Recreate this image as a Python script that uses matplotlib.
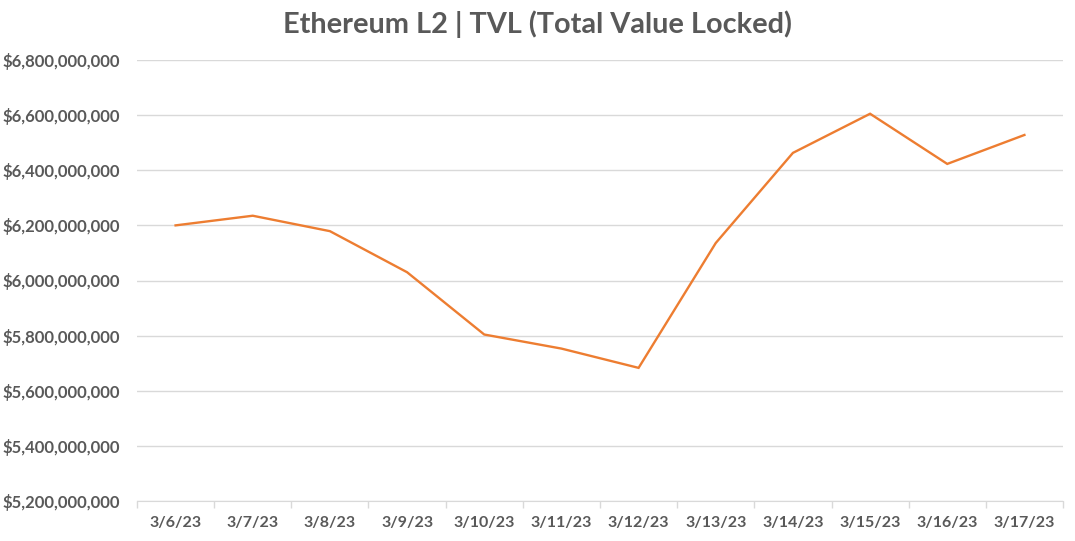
import matplotlib.pyplot as plt
from matplotlib.ticker import FuncFormatter, MultipleLocator
import numpy as np

dates = ["3/6/23", "3/7/23", "3/8/23", "3/9/23", "3/10/23", "3/11/23",
         "3/12/23", "3/13/23", "3/14/23", "3/15/23", "3/16/23", "3/17/23"]
tvl = [6.200e9, 6.235e9, 6.179e9, 6.030e9, 5.804e9, 5.753e9,
       5.683e9, 6.136e9, 6.463e9, 6.605e9, 6.423e9, 6.528e9]

gray = "#595959"
plt.rcParams["font.family"] = ["Lato", "DejaVu Sans"]

fig = plt.figure(figsize=(10.75, 5.41), dpi=100)
ax = fig.add_axes([137 / 1075, 1 - 501 / 541, (1063 - 137) / 1075, (501 - 60) / 541])

x = np.arange(len(dates))
ax.plot(x, tvl, color="#ED7D31", linewidth=1.7, solid_joinstyle="miter")

ax.set_xlim(-0.5, len(dates) - 0.5)
ax.set_ylim(5.2e9, 6.8e9)
ax.yaxis.set_major_locator(MultipleLocator(2e8))
ax.yaxis.set_major_formatter(FuncFormatter(lambda v, p: f"${v:,.0f}"))
ax.grid(axis="y", color="#d9d9d9", linewidth=1)
ax.set_axisbelow(True)

ax.set_xticks(x)
ax.set_xticklabels(dates)
ax.set_xticks(np.arange(-0.5, len(dates)), minor=True)
ax.tick_params(axis="x", which="major", length=0, pad=11)
ax.tick_params(axis="x", which="minor", length=5, color="#d9d9d9", width=1)
ax.tick_params(axis="y", length=0, pad=12)

for lab in ax.get_xticklabels():
    lab.set_color(gray)
    lab.set_fontweight("bold")
    lab.set_fontsize(11.5)
for lab in ax.get_yticklabels():
    lab.set_color(gray)
    lab.set_fontweight("bold")
    lab.set_fontsize(12)

for side in ["top", "right", "left"]:
    ax.spines[side].set_visible(False)
ax.spines["bottom"].set_color("#d9d9d9")

fig.text(0.5, 1 - 24 / 541, "Ethereum L2 | TVL (Total Value Locked)",
         ha="center", va="center", fontsize=20.8, fontweight="bold", color=gray)

fig.savefig("out.png", dpi=100)
